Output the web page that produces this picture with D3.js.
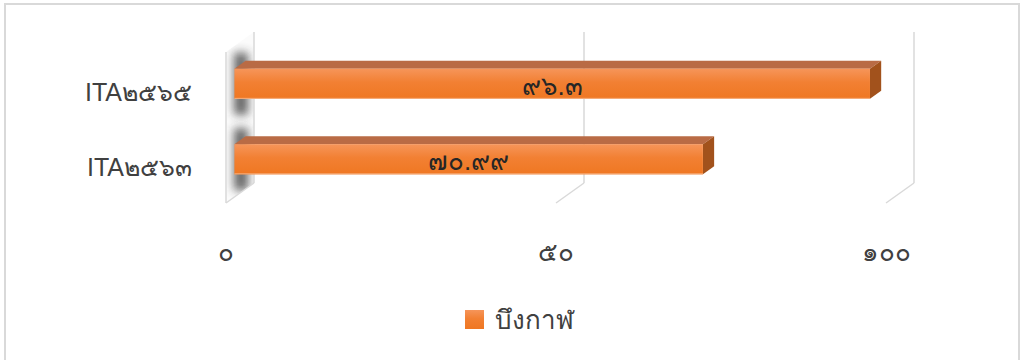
<!DOCTYPE html>
<html><head><meta charset="utf-8">
<script src="https://cdn.jsdelivr.net/npm/d3@7"></script>
<style>
html,body{margin:0;padding:0;background:#fff;}
svg{display:block;font-family:"Liberation Sans","DejaVu Sans",sans-serif;}
</style></head>
<body>
<script>
const categories = ["ITA๒๕๖๕", "ITA๒๕๖๓"];
const values = [96.3, 70.99];
const valueLabels = ["๙๖.๓", "๗๐.๙๙"];
const tickValues = [0, 50, 100];
const tickLabels = ["๐", "๕๐", "๑๐๐"];
const seriesName = "บึงกาฬ";

const W = 1021, H = 360;
const svg = d3.select("body").append("svg").attr("width", W).attr("height", H);

// outer frame
svg.append("rect").attr("x", 5).attr("y", 4).attr("width", 1014).attr("height", 370)
  .attr("fill", "#fff").attr("stroke", "#d9d9d9").attr("stroke-width", 2);

const DX = -28, DY = 20; // depth offset back->front
const x = d3.scaleLinear().domain([0, 100]).range([254, 914]);
const y = d3.scaleBand().domain(categories).range([32, 183]).paddingInner(0.6).paddingOuter(0.3);
const off = d => [DX * (1 - d), DY * (1 - d)]; // d: 1 = back, 0 = front

const defs = svg.append("defs");
const g1 = defs.append("linearGradient").attr("id", "front").attr("x1", 0).attr("y1", 0).attr("x2", 0).attr("y2", 1);
g1.append("stop").attr("offset", "0%").attr("stop-color", "#F6955A");
g1.append("stop").attr("offset", "45%").attr("stop-color", "#F28033");
g1.append("stop").attr("offset", "100%").attr("stop-color", "#EF7722");
const blur = defs.append("filter").attr("id", "blur").attr("x", "-50%").attr("y", "-50%").attr("width", "200%").attr("height", "200%");
blur.append("feGaussianBlur").attr("stdDeviation", 5);
const y0 = y.range()[0], y1 = y.range()[1];
const x0 = x(0);
const wallPts = [[x0, y0], [x0 + DX, y0 + DY], [x0 + DX, y1 + DY], [x0, y1]];
defs.append("clipPath").attr("id", "wallclip").append("polygon").attr("points", wallPts.map(p => p.join(",")).join(" "));

// left wall
svg.append("polygon").attr("points", wallPts.map(p => p.join(",")).join(" ")).attr("fill", "#fbfbfb");
// shadows on wall
svg.append("g").attr("clip-path", "url(#wallclip)").selectAll("rect").data(categories).join("rect")
  .attr("x", x0 - 20).attr("width", 14)
  .attr("y", d => y(d) - 2).attr("height", y.bandwidth() + 32)
  .attr("fill", "#333").attr("opacity", 0.75).attr("filter", "url(#blur)");

// wall edges
const grid = svg.append("g").attr("stroke", "#d9d9d9").attr("stroke-width", 1.5).attr("fill", "none");
grid.append("line").attr("x1", x0 + DX).attr("x2", x0 + DX).attr("y1", y0 + DY).attr("y2", y1 + DY);
grid.selectAll(".v").data(tickValues).join("line").attr("class", "v")
  .attr("x1", d => x(d)).attr("x2", d => x(d)).attr("y1", y0).attr("y2", y1);
grid.selectAll(".f").data(tickValues).join("line").attr("class", "f")
  .attr("x1", d => x(d)).attr("x2", d => x(d) + DX).attr("y1", y1).attr("y2", y1 + DY);

// bars
const dF = 0.3, dB = 0.7;
const bars = svg.append("g").selectAll("g").data(categories).join("g");
bars.each(function(c, i) {
  const g = d3.select(this);
  const [fx, fy] = off(dF), [bx, by] = off(dB);
  const top = y(c), bot = y(c) + y.bandwidth();
  const xl = x(0), xr = x(values[i]);
  const P = pts => pts.map(p => p.join(",")).join(" ");
  g.append("polygon").attr("fill", "#B96B45")
    .attr("points", P([[xl + fx, top + fy], [xr + fx, top + fy], [xr + bx, top + by], [xl + bx, top + by]]));
  g.append("polygon").attr("fill", "#A2521C")
    .attr("points", P([[xr + fx, top + fy], [xr + bx, top + by], [xr + bx, bot + by], [xr + fx, bot + fy]]));
  g.append("rect").attr("x", xl + fx).attr("y", top + fy).attr("width", xr - xl).attr("height", bot - top)
    .attr("fill", "url(#front)");
  g.append("line").attr("x1", xl + fx).attr("x2", xr + fx).attr("y1", bot + fy - 0.5).attr("y2", bot + fy - 0.5)
    .attr("stroke", "#F6B182").attr("stroke-width", 1);
  g.append("text").attr("x", xl + fx + (xr - xl) / 2).attr("y", (top + bot) / 2 + fy + 2)
    .attr("text-anchor", "middle").attr("dominant-baseline", "central")
    .attr("font-size", 26).attr("fill", "#262626").text(valueLabels[i]);
});

// category labels
svg.append("g").selectAll("text").data(categories).join("text")
  .attr("x", 192).attr("y", d => y(d) + y.bandwidth() / 2 + DY + 2)
  .attr("text-anchor", "end").attr("dominant-baseline", "central")
  .attr("font-size", 25).attr("fill", "#404040").text(d => d);

// tick labels
svg.append("g").selectAll("text").data(tickValues).join("text")
  .attr("x", d => x(d) + DX).attr("y", 252)
  .attr("text-anchor", "middle").attr("dominant-baseline", "central")
  .attr("font-size", 26).attr("fill", "#404040").text((d, i) => tickLabels[i]);

// legend
svg.append("rect").attr("x", 465).attr("y", 310).attr("width", 19).attr("height", 19).attr("fill", "url(#front)");
svg.append("text").attr("x", 495).attr("y", 320).attr("dominant-baseline", "central")
  .attr("font-size", 26).attr("fill", "#404040").text(seriesName);
</script>
</body></html>
